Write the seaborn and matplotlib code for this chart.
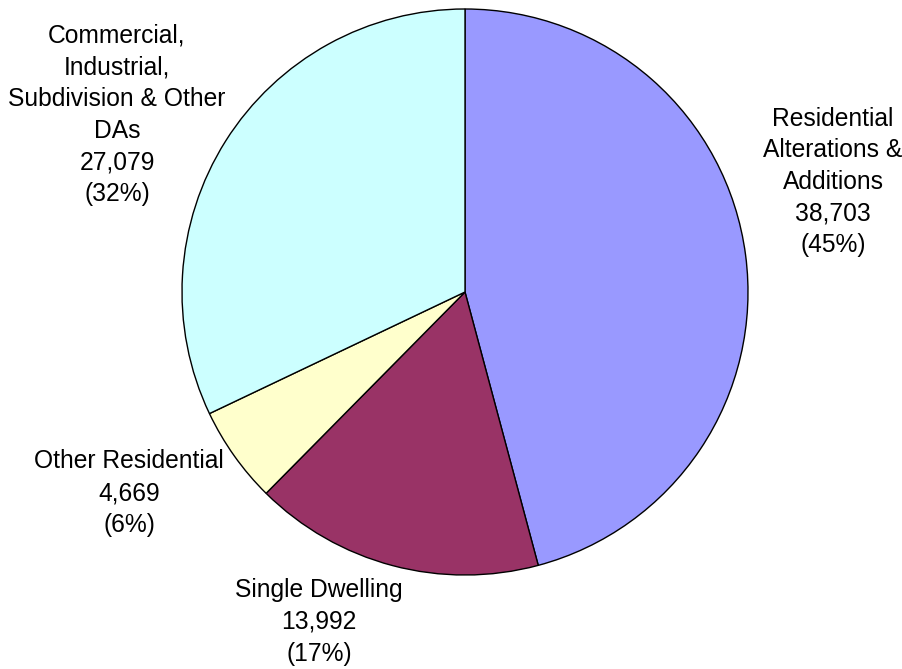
import matplotlib
matplotlib.use("Agg")
import matplotlib.pyplot as plt
import seaborn as sns

# Development applications by category
categories = [
    "Residential\nAlterations &\nAdditions",
    "Single Dwelling",
    "Other Residential",
    "Commercial,\nIndustrial,\nSubdivision & Other\nDAs",
]
counts = [38703, 13992, 4669, 27079]
pct_labels = ["(45%)", "(17%)", "(6%)", "(32%)"]
colors = ["#9999FF", "#993366", "#FFFFCC", "#CCFFFF"]

# label anchor points (figure pixels, origin bottom-left)
label_pos = [(833, 487), (319, 47), (129, 176), (117, 554)]

sns.set_theme(style="white")
plt.rcParams["font.family"] = ["Liberation Sans", "DejaVu Sans"]

W, H = 903, 669
fig = plt.figure(figsize=(W / 100, H / 100), dpi=100)
fig.patch.set_facecolor("white")
ax = fig.add_axes([0, 0, 1, 1])

ax.pie(
    counts,
    colors=colors,
    startangle=90,
    counterclock=False,
    center=(465, 377),
    radius=283,
    frame=True,
    wedgeprops=dict(edgecolor="black", linewidth=1.0),
)
ax.set_xlim(0, W)
ax.set_ylim(0, H)
ax.set_aspect("equal")
ax.axis("off")

for cat, n, pct, (x, y) in zip(categories, counts, pct_labels, label_pos):
    ax.text(
        x, y, f"{cat}\n{n:,}\n{pct}",
        ha="center", va="center", multialignment="center",
        fontsize=17.7, color="black", linespacing=1.4,
    )

fig.savefig("out.png", dpi=100, facecolor="white")
